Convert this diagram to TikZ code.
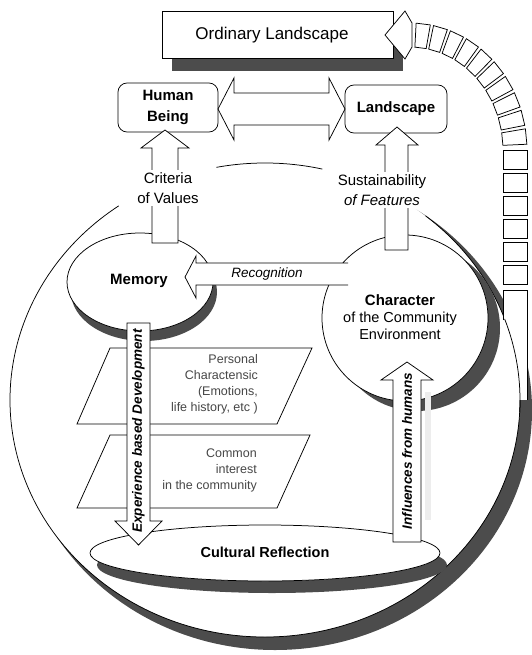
\documentclass[tikz,border=0pt]{standalone}
\usepackage{fontspec}
\setmainfont{Liberation Sans}
\begin{document}
\begin{tikzpicture}[x=1pt,y=-1pt,
  outline/.style={draw=black, line width=0.75pt},
  darkshade/.style={fill=black!70},
  block/.style={draw=black, fill=white, line width=0.75pt, line join=miter},
  boxlabel/.style={font=\fontsize{15}{21}\selectfont\bfseries, align=center, inner sep=0pt},
  plainlabel/.style={font=\fontsize{15}{20}\selectfont, align=center, fill=white, inner sep=2pt},
  notelabel/.style={font=\fontsize{12.5}{16}\selectfont, text=black!72, align=right, anchor=east, inner sep=0pt},
  flowlabel/.style={font=\fontsize{13.5}{16}\selectfont\bfseries\itshape, rotate=90, inner sep=0pt},
  rbox/.style={draw=black, fill=white, line width=0.75pt, rounded corners=9pt, inner sep=0pt},
]
\useasboundingbox (0,0) rectangle (532,655);

% ---- outer ring: drop shadow and outline ----
\begin{scope}
  \clip (275,410) ellipse [x radius=257, y radius=240];
  \fill[darkshade, even odd rule] (-5,-5) rectangle (540,660) (265,400) ellipse [x radius=255, y radius=237];
\end{scope}
\draw[outline] ([shift={(-101:255 and 237)}]265,400) arc[start angle=-101, end angle=-77, x radius=255, y radius=237];
\draw[outline] ([shift={(-51:255 and 237)}]265,400) arc[start angle=-51, end angle=235, x radius=255, y radius=237];

% ---- segmented return band ----
\fill[white] (503,290) rectangle (527,400);
\draw[outline] (503,320) -- (503,290) -- (527,290) -- (527,400);
\draw[outline] ([shift={(-20:255 and 237)}]265,400) arc[start angle=-20, end angle=3, x radius=255, y radius=237];
\foreach \t in {150,173,196,219,242,265}
  \draw[block] (503,\t) rectangle (527,\t+19);
\foreach \a [evaluate=\a as \b using \a+7] in {-87,-78.4,-69.8,-61.2,-52.6,-44,-35.4,-26.8,-18.2,-9.6}
  \draw[block] ([shift={(\a:93 and 103)}]410,150) -- ([shift={(\a:117 and 127)}]410,150)
               -- ([shift={(\b:117 and 127)}]410,150) -- ([shift={(\b:93 and 103)}]410,150) -- cycle;

% ---- Ordinary Landscape ----
\fill[darkshade] (172,24) rectangle (403,71);
\node[draw=black, fill=white, line width=0.75pt, minimum width=231pt, minimum height=47pt, inner sep=0pt] (ordbox) at (277.5,34.5) {};
\node[font=\fontsize{17}{20}\selectfont] (ordtext) at (272,35) {Ordinary Landscape};
\draw[block] (412,23) -- (405,11) -- (385,35) -- (405,59) -- (412,47) -- cycle;

% ---- Human Being <-> Landscape ----
\node[rbox, boxlabel, minimum width=100pt, minimum height=49pt] (human) at (168,107.5) {Human\\Being};
\node[rbox, boxlabel, minimum width=102pt, minimum height=48pt] (land) at (396,109) {Landscape};
\draw[block] (218,109) -- (234,78) -- (234,93) -- (329,93) -- (329,78) -- (345,109)
             -- (329,140) -- (329,125) -- (234,125) -- (234,140) -- cycle;

% ---- Character of the Community Environment ----
\begin{scope}
  \clip (417,328) circle [radius=83];
  \fill[darkshade, even odd rule] (300,220) rectangle (520,430) (405,318) circle [radius=83];
\end{scope}
\draw[outline, fill=white] (405,318) circle [radius=83];
\node[align=center, font=\fontsize{14.5}{17}\selectfont] (character) at (400,317)
  {{\fontsize{15}{17}\selectfont\bfseries Character}\\of the Community\\Environment};

% ---- Memory ----
\begin{scope}
  \clip (144,292) ellipse [x radius=73, y radius=49];
  \fill[darkshade, even odd rule] (50,220) rectangle (240,350) (140,282) ellipse [x radius=73, y radius=49];
\end{scope}
\draw[outline, fill=white] (140,282) ellipse [x radius=73, y radius=49];
\node[boxlabel] (memory) at (139,281) {Memory};

% ---- Cultural Reflection ----
\begin{scope}
  \clip (272,565) ellipse [x radius=175, y radius=28];
  \fill[darkshade, even odd rule] (80,510) rectangle (460,600) (265,553) ellipse [x radius=175, y radius=28];
\end{scope}
\draw[outline, fill=white] (265,553) ellipse [x radius=175, y radius=28];
\node[font=\fontsize{14.5}{17}\selectfont\bfseries] (cultural) at (265,552) {Cultural Reflection};

% ---- personal and common layers ----
\draw[outline, fill=white] (110,348) -- (312,348) -- (277,424) -- (77,424) -- cycle;
\draw[outline, fill=white] (110,435) -- (310,435) -- (277,508) -- (77,508) -- cycle;
\node[notelabel] (personal) at (258,384) {Personal\\Charactensic\\(Emotions,\\life history, etc )};
\node[notelabel] (common) at (257,470) {Common\\interest\\in the community};

% ---- vertical flows ----
\draw[block] (152,243) -- (152,148) -- (141,148) -- (165,130) -- (189,148) -- (178,148) -- (178,243) -- cycle;
\node[plainlabel] (criteria) at (168,188) {Criteria\\of Values};

\draw[block] (385,250) -- (385,145) -- (376,145) -- (397,127) -- (418,145) -- (408,145) -- (408,250) -- cycle;
\node[plainlabel] (sustain) at (382,190) {Sustainability\\\textit{of Features}};

\draw[block] (127,323) -- (150,323) -- (150,521) -- (162,521) -- (138.5,545) -- (115,521) -- (127,521) -- cycle;
\node[flowlabel] (experience) at (138.5,431) {Experience based Development};

\fill[black!7] (425,392) rectangle (431,520);
\draw[block] (393,542) -- (393,380) -- (381,380) -- (407,362) -- (433,380) -- (421,380) -- (421,542) -- cycle;
\node[flowlabel] (influences) at (407,451) {Influences from humans};

% ---- Recognition ----
\fill[white] (348,263) -- (196,263) -- (196,256) -- (185,277) -- (196,298) -- (196,285) -- (348,285) -- cycle;
\draw[outline, line join=miter] (348,263) -- (196,263) -- (196,256) -- (185,277) -- (196,298) -- (196,285) -- (348,285);
\node[font=\fontsize{13.5}{16}\selectfont\itshape] (recog) at (267,274) {Recognition};

\end{tikzpicture}
\end{document}
